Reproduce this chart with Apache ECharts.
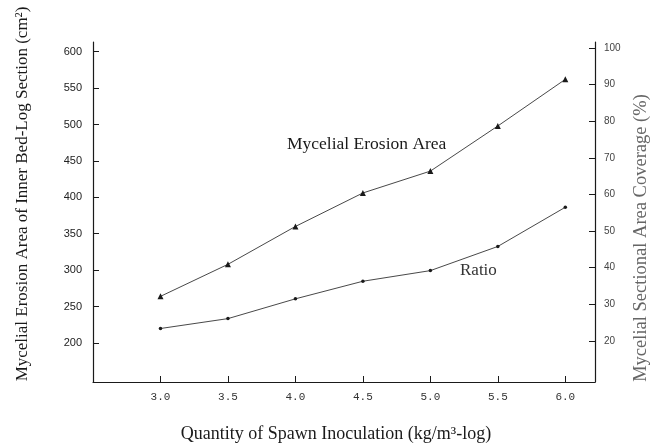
<!DOCTYPE html>
<html>
<head>
<meta charset="utf-8">
<script src="https://cdn.jsdelivr.net/npm/echarts@6/dist/echarts.min.js"></script>
<style>
  html, body { margin: 0; padding: 0; background: #fff; }
  #chart { width: 653px; height: 448px; }
</style>
</head>
<body>
<div id="chart"></div>
<script>
// spawn quantity (kg/m3, log)
const spawnQty = [3.0, 3.5, 4.0, 4.5, 5.0, 5.5, 6.0];
// mycelial erosion area (cm2) - left axis
const erosionArea = [264, 308, 360, 406, 436, 498, 562];
// sectional area coverage ratio (%) - right axis
const coverageRatio = [23.4, 26.1, 31.5, 36.3, 39.2, 45.8, 56.5];

const xTicks = [3.0, 3.5, 4.0, 4.5, 5.0, 5.5, 6.0];
const leftTicks = [200, 250, 300, 350, 400, 450, 500, 550, 600];
const rightTicks = [20, 30, 40, 50, 60, 70, 80, 90, 100];

const serif = '"Liberation Serif", "DejaVu Serif", serif';
const ink = '#1a1a1a';

const chart = echarts.init(document.getElementById('chart'));

chart.setOption({
  animation: false,
  backgroundColor: '#fff',
  grid: { left: 93, right: 58, top: 42, bottom: 66, outerBoundsMode: 'none', containLabel: false },
  xAxis: {
    type: 'value',
    min: 2.5,
    max: 6.22,
    name: 'Quantity of Spawn Inoculation (kg/m³-log)',
    nameLocation: 'middle',
    nameGap: 43,
    nameTextStyle: { fontFamily: serif, fontSize: 18, color: ink, padding: [0, 16, 0, 0] },
    axisLine: { lineStyle: { color: ink, width: 1.2 } },
    axisTick: { inside: true, length: 6, customValues: xTicks, lineStyle: { color: ink } },
    axisLabel: {
      customValues: xTicks,
      margin: 10,
      fontFamily: '"Liberation Mono", monospace',
      fontSize: 11,
      color: '#333',
      formatter: v => v.toFixed(1)
    },
    splitLine: { show: false }
  },
  yAxis: [
    {
      type: 'value',
      min: 146.4,
      max: 613.3,
      name: 'Mycelial Erosion Area of Inner Bed-Log Section (cm²)',
      nameLocation: 'middle',
      nameRotate: 90,
      nameGap: 62,
      nameTextStyle: { fontFamily: serif, fontSize: 17, color: ink, padding: [0, 0, 0, 36] },
      axisLine: { show: true, lineStyle: { color: ink, width: 1.2 } },
      axisTick: { show: true, inside: true, length: 6, customValues: leftTicks, lineStyle: { color: ink } },
      axisLabel: {
        customValues: leftTicks,
        margin: 11,
        fontFamily: '"Liberation Sans", Arial, sans-serif',
        fontSize: 11,
        color: '#222'
      },
      splitLine: { show: false }
    },
    {
      type: 'value',
      position: 'right',
      min: 8.8,
      max: 101.6,
      name: 'Mycelial Sectional Area Coverage (%)',
      nameLocation: 'middle',
      nameRotate: 90,
      nameGap: 33,
      nameTextStyle: { fontFamily: serif, fontSize: 18.5, color: '#666', padding: [0, 52, 0, 0] },
      axisLine: { show: true, lineStyle: { color: ink, width: 1.2 } },
      axisTick: { show: true, inside: true, length: 6, customValues: rightTicks, lineStyle: { color: ink } },
      axisLabel: {
        customValues: rightTicks,
        margin: 9,
        fontFamily: '"Liberation Sans", Arial, sans-serif',
        fontSize: 10,
        color: '#444'
      },
      splitLine: { show: false }
    }
  ],
  series: [
    {
      name: 'Mycelial Erosion Area',
      type: 'line',
      yAxisIndex: 0,
      data: spawnQty.map((x, i) => [x, erosionArea[i]]),
      symbol: 'triangle',
      symbolSize: 6,
      itemStyle: { color: ink },
      lineStyle: { color: '#333', width: 0.9 }
    },
    {
      name: 'Ratio',
      type: 'line',
      yAxisIndex: 1,
      data: spawnQty.map((x, i) => [x, coverageRatio[i]]),
      symbol: 'circle',
      symbolSize: 3.5,
      itemStyle: { color: ink },
      lineStyle: { color: '#333', width: 0.9 }
    }
  ],
  graphic: [
    {
      type: 'text',
      left: 287,
      top: 135,
      style: { text: 'Mycelial Erosion Area', font: '17.5px ' + serif, fill: ink }
    },
    {
      type: 'text',
      left: 460,
      top: 262,
      style: { text: 'Ratio', font: '17px ' + serif, fill: '#333' }
    }
  ]
});
</script>
</body>
</html>
